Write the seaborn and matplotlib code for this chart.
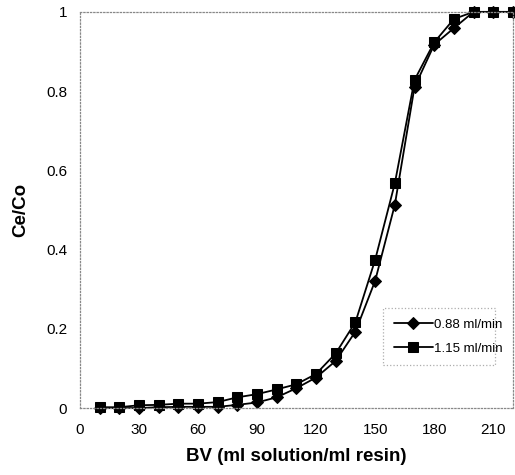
import matplotlib
matplotlib.use("Agg")
import matplotlib.pyplot as plt
import seaborn as sns
import pandas as pd
from matplotlib.ticker import FuncFormatter

# Bed volumes passed through the column
bv = [10, 20, 30, 40, 50, 60, 70, 80, 90, 100, 110, 120, 130, 140, 150,
      160, 170, 180, 190, 200, 210, 220]

# Breakthrough ratio Ce/Co at two flow rates
ce_co_088 = [0.0, 0.0, 0.0, 0.002, 0.003, 0.003, 0.003, 0.008, 0.014, 0.027,
             0.05, 0.077, 0.119, 0.193, 0.321, 0.513, 0.81, 0.917, 0.959,
             1.0, 1.0, 1.0]
ce_co_115 = [0.002, 0.002, 0.007, 0.008, 0.011, 0.011, 0.015, 0.027, 0.035,
             0.047, 0.06, 0.086, 0.138, 0.217, 0.374, 0.567, 0.828, 0.923,
             0.982, 1.0, 1.0, 1.0]

series_labels = ["0.88 ml/min", "1.15 ml/min"]
x_ticks = [0, 30, 60, 90, 120, 150, 180, 210]
y_ticks = [0, 0.2, 0.4, 0.6, 0.8, 1.0]

sns.set_style("white")
plt.rcParams["font.family"] = ["Liberation Sans", "DejaVu Sans"]
plt.rcParams["text.color"] = "black"
plt.rcParams["axes.labelcolor"] = "black"

df = pd.concat([
    pd.DataFrame({"BV": bv, "ratio": ce_co_088, "rate": series_labels[0]}),
    pd.DataFrame({"BV": bv, "ratio": ce_co_115, "rate": series_labels[1]}),
])

fig = plt.figure(figsize=(5.15, 4.75), dpi=100)
ax = fig.add_axes([0.155, 0.141, 0.841, 0.834])

sns.lineplot(data=df, x="BV", y="ratio", style="rate",
             markers={series_labels[0]: "D", series_labels[1]: "s"},
             dashes=False, color="black", linewidth=1.3, markersize=6.5,
             markeredgecolor="black", ax=ax, clip_on=False)

ax.set_xlim(0, 220)
ax.set_ylim(0, 1)
ax.set_xticks(x_ticks)
ax.set_yticks(y_ticks)
ax.yaxis.set_major_formatter(FuncFormatter(lambda v, p: f"{v:g}"))
ax.tick_params(axis="both", labelsize=11, length=3, width=0.8, color="#888888",
               direction="out", pad=6, labelcolor="black")
ax.tick_params(axis="x", pad=8)

for side in ["left", "right", "top", "bottom"]:
    ax.spines[side].set_visible(True)
    ax.spines[side].set_linestyle(":")
    ax.spines[side].set_color("#888888")
    ax.spines[side].set_linewidth(0.9)

ax.set_xlabel("BV (ml solution/ml resin)", fontsize=13.5, fontweight="bold", labelpad=8)
ax.set_ylabel("Ce/Co", fontsize=13.5, fontweight="bold", labelpad=12)

leg = ax.legend(loc="lower left", bbox_to_anchor=(0.70, 0.108, 0.258, 0.127),
                mode="expand", borderaxespad=0, fontsize=9.5, handlelength=3.0,
                frameon=True, fancybox=False, borderpad=0.8, labelspacing=0.9,
                handletextpad=0.1, title=None)
leg.get_frame().set_edgecolor("#999999")
leg.get_frame().set_linestyle(":")
leg.get_frame().set_linewidth(0.9)

fig.savefig("out.png", dpi=100, facecolor="white")
